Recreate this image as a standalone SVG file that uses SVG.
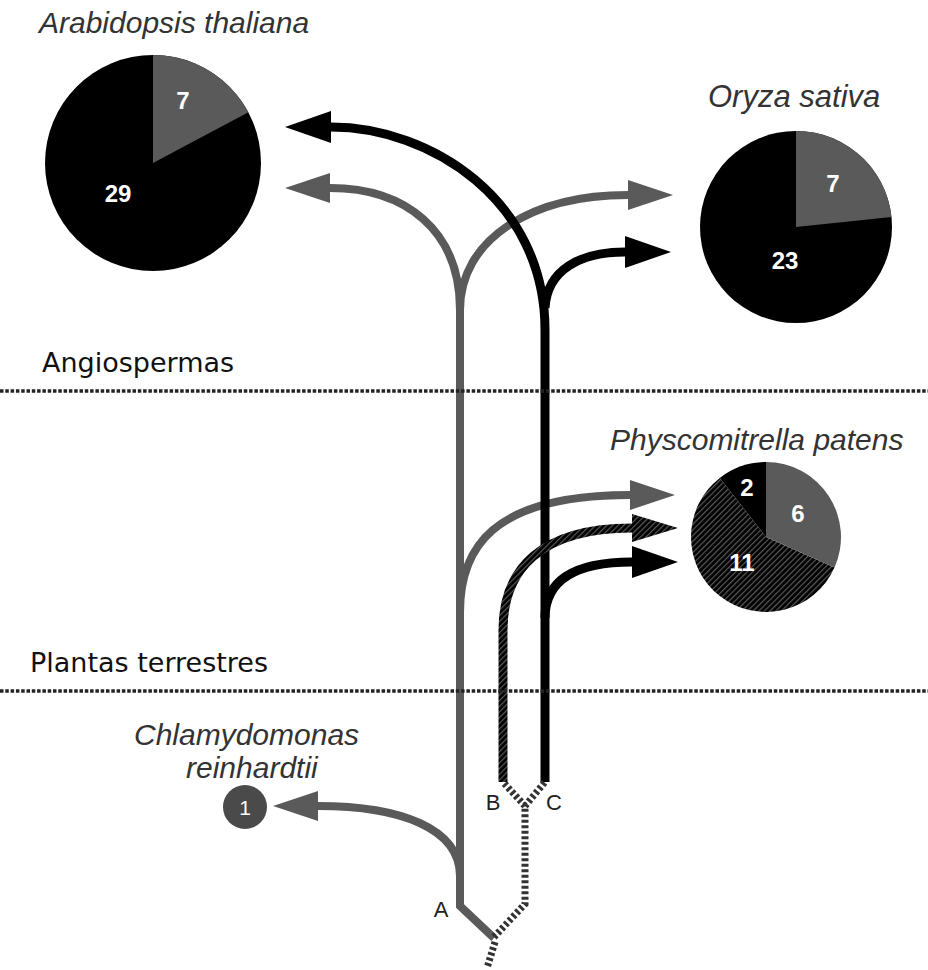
<svg xmlns="http://www.w3.org/2000/svg" width="928" height="970" viewBox="0 0 928 970">
<style>
.sp{font-family:"Liberation Sans",Arial,sans-serif;font-style:italic;fill:#333;font-size:30px}
.grp{font-family:"DejaVu Sans",Verdana,sans-serif;fill:#111;font-size:27px}
.num{font-family:"Liberation Sans",Arial,sans-serif;font-weight:bold;fill:#fff;font-size:24px;text-anchor:middle}
.let{font-family:"Liberation Sans",Arial,sans-serif;fill:#222;font-size:22px;text-anchor:middle}
.g{fill:none;stroke:#5a5a5a;stroke-width:8}
.k{fill:none;stroke:#000;stroke-width:9}
.h{fill:none;stroke:url(#hatch);stroke-width:9}
.d{fill:none;stroke:#333;stroke-width:7;stroke-dasharray:3 2.5}
.dot{fill:none;stroke:#222;stroke-width:3.5;stroke-dasharray:3.5 1.8}
</style>
<defs>
<pattern id="hatch" patternUnits="userSpaceOnUse" width="4" height="4" patternTransform="rotate(45)">
<rect width="4" height="4" fill="#000"/>
<rect width="1.2" height="4" fill="#5a5a5a"/>
</pattern>
<marker id="ag" markerUnits="userSpaceOnUse" markerWidth="50" markerHeight="34" refX="0" refY="15" orient="auto" overflow="visible">
<path d="M0,0 L45,15 L0,30 z" fill="#5a5a5a"/>
</marker>
<marker id="ak" markerUnits="userSpaceOnUse" markerWidth="50" markerHeight="34" refX="0" refY="16" orient="auto" overflow="visible">
<path d="M0,0 L46,16 L0,32 z" fill="#000"/>
</marker>
</defs>
<rect width="928" height="970" fill="#fff"/>

<g id="connectors">
<path class="g" d="M494,938 L460,906 L460,300"/>
<path class="g" d="M460,310 C460,230 405,188 330,188" marker-end="url(#ag)"/>
<path class="g" d="M460,310 C460,240 530,195 628,195" marker-end="url(#ag)"/>
<path class="g" d="M460,612 C460,550 490,495 630,495" marker-end="url(#ag)"/>
<path class="g" d="M460,876 C460,828 400,806 318,806" marker-end="url(#ag)"/>
<path class="k" d="M545,782 L545,330 C545,200 430,127 331,127" marker-end="url(#ak)"/>
<path class="k" d="M545,308 C547,270 580,252 625,252" marker-end="url(#ak)"/>
<path class="k" d="M545,618 C545,580 575,562 632,562" marker-end="url(#ak)"/>
<path class="h" d="M503,782 L503,630 C503,570 540,528 632,528"/>
<path d="M632,514 L678,528 L632,542 z" fill="url(#hatch)"/>
<path class="d" d="M494,937 L525,904 L525,806"/>
<path class="d" d="M525,806 L503,782 M525,806 L545,782"/>
<path class="d" d="M495,942 L487,968"/>
</g>

<g id="dividers">
<path class="dot" d="M0,391 H928"/>
<path class="dot" d="M0,691 H928"/>
<text class="grp" x="42" y="372">Angiospermas</text>
<text class="grp" x="30" y="672">Plantas terrestres</text>
</g>

<g id="arabidopsis">
<text class="sp" x="39" y="33">Arabidopsis thaliana</text>
<circle cx="153" cy="163" r="108" fill="#000"/>
<path d="M153,163 L153,55 A108,108 0 0,1 248.4,112.3 Z" fill="#5a5a5a"/>
<text class="num" x="183" y="109">7</text>
<text class="num" x="118" y="202">29</text>
</g>

<g id="oryza">
<text class="sp" x="708" y="107" style="font-size:31px">Oryza sativa</text>
<circle cx="796" cy="227" r="96" fill="#000"/>
<path d="M796,227 L796,131 A96,96 0 0,1 891.5,217 Z" fill="#5a5a5a"/>
<text class="num" x="833" y="192">7</text>
<text class="num" x="785" y="269">23</text>
</g>

<g id="physcomitrella">
<text class="sp" x="610" y="450">Physcomitrella patens</text>
<path d="M766,537 L834.5,567.5 A75,75 0 1,1 719.8,477.9 Z" fill="url(#hatch)"/>
<path d="M766,537 L719.8,477.9 A75,75 0 0,1 766,462 Z" fill="#000"/>
<path d="M766,537 L766,462 A75,75 0 0,1 834.5,567.5 Z" fill="#5a5a5a"/>
<text class="num" x="747" y="496">2</text>
<text class="num" x="798" y="522">6</text>
<text class="num" x="742" y="571">11</text>
</g>

<g id="chlamydomonas">
<text class="sp" x="134" y="745">Chlamydomonas</text>
<text class="sp" x="186" y="778">reinhardtii</text>
<circle cx="245" cy="807" r="22" fill="#4a4a4a"/>
<text class="num" x="245" y="815" style="font-size:21px;font-weight:normal">1</text>
</g>

<g id="labels">
<text class="let" x="441" y="917">A</text>
<text class="let" x="493" y="810">B</text>
<text class="let" x="554" y="810">C</text>
</g>
</svg>
